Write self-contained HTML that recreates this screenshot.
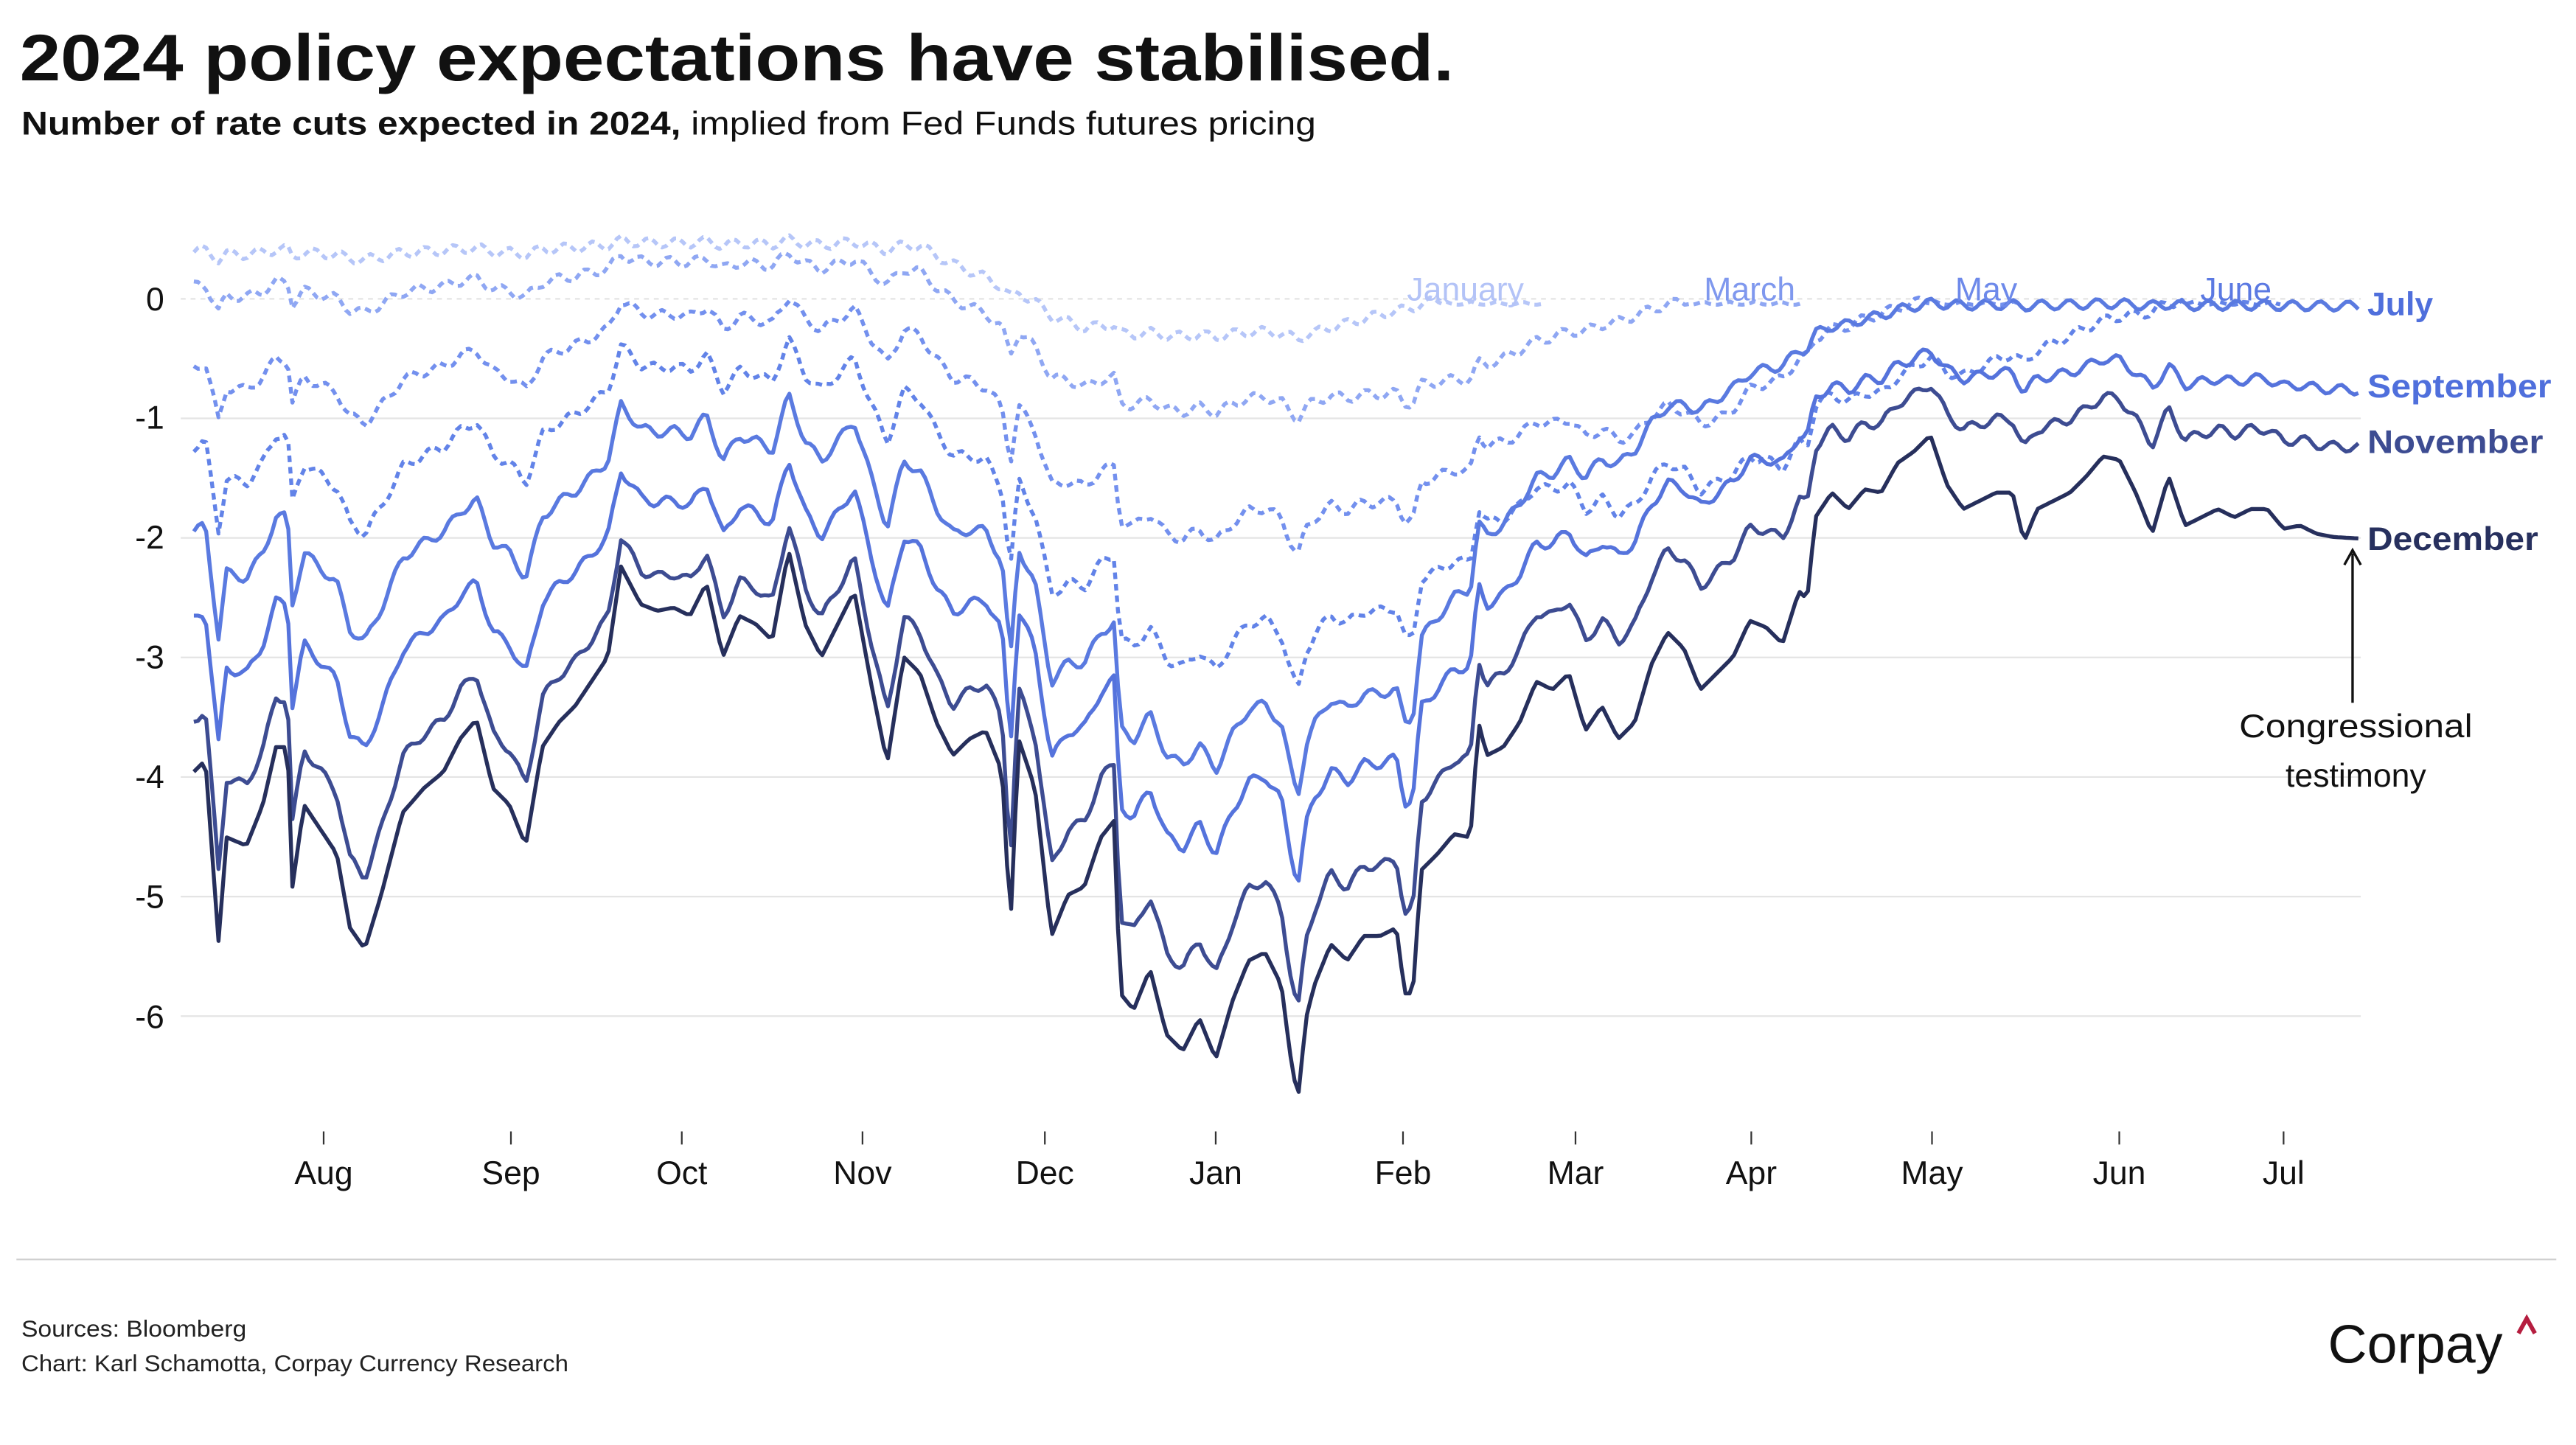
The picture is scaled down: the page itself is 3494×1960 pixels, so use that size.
<!DOCTYPE html>
<html><head><meta charset="utf-8"><style>
html,body{margin:0;padding:0;background:#fff;}
svg{display:block;}
text{font-family:"Liberation Sans",sans-serif;}
</style></head><body>
<svg id="s" width="3494" height="1960" viewBox="0 0 1568 880" preserveAspectRatio="none" xmlns="http://www.w3.org/2000/svg">
<rect width="1568" height="880" fill="#fff"/>
<text x="12" y="49" font-size="40" font-weight="bold" fill="#111" textLength="873" lengthAdjust="spacingAndGlyphs">2024 policy expectations have stabilised.</text>
<text x="13" y="82" font-size="20" fill="#111" textLength="788" lengthAdjust="spacingAndGlyphs"><tspan font-weight="bold">Number of rate cuts expected in 2024,</tspan> implied from Fed Funds futures pricing</text>
<g id="grid"></g>
<g id="series"></g>
<g font-size="20" fill="#111">
<text x="100" y="189" text-anchor="end">0</text>
<text x="100" y="261" text-anchor="end">-1</text>
<text x="100" y="334" text-anchor="end">-2</text>
<text x="100" y="407" text-anchor="end">-3</text>
<text x="100" y="480" text-anchor="end">-4</text>
<text x="100" y="553" text-anchor="end">-5</text>
<text x="100" y="626" text-anchor="end">-6</text>
</g>
<g id="xt" font-size="20" fill="#111" text-anchor="middle"></g>
<g font-size="20" font-weight="bold">
<text x="1441" y="192" fill="#4f6fdc">July</text>
<text x="1441" y="242" fill="#4f6fdc" textLength="112" lengthAdjust="spacingAndGlyphs">September</text>
<text x="1441" y="276" fill="#3d4c92" textLength="107" lengthAdjust="spacingAndGlyphs">November</text>
<text x="1441" y="335" fill="#27305e" textLength="104" lengthAdjust="spacingAndGlyphs">December</text>
<text x="892" y="183" fill="#b3c3f7" text-anchor="middle" font-weight="normal">January</text>
<text x="1065" y="183" fill="#7f98ee" text-anchor="middle" font-weight="normal">March</text>
<text x="1209" y="183" fill="#6d89ea" text-anchor="middle" font-weight="normal">May</text>
<text x="1361" y="183" fill="#5b79e2" text-anchor="middle" font-weight="normal">June</text>
</g>
<line x1="1432" y1="337" x2="1432" y2="428" stroke="#111" stroke-width="1.5"/>
<path d="M1427 344 L1432 335 L1437 344" fill="none" stroke="#111" stroke-width="1.5"/>
<text x="1434" y="449" font-size="20" fill="#111" text-anchor="middle" textLength="142" lengthAdjust="spacingAndGlyphs">Congressional</text>
<text x="1434" y="479" font-size="20" fill="#111" text-anchor="middle">testimony</text>
<line x1="10" y1="767" x2="1556" y2="767" stroke="#cfcfcf" stroke-width="1"/>
<text x="13" y="814" font-size="14" fill="#222" textLength="137" lengthAdjust="spacingAndGlyphs">Sources: Bloomberg</text>
<text x="13" y="835" font-size="14" fill="#222" textLength="333" lengthAdjust="spacingAndGlyphs">Chart: Karl Schamotta, Corpay Currency Research</text>
<text x="1417" y="830" font-size="33" fill="#111">Corpay</text>
<path d="M1533 812 L1538 803 L1543 812" fill="none" stroke="#b51d3f" stroke-width="2.6"/>
</svg>
<script>
var NS="http://www.w3.org/2000/svg";
function el(t,a,p){var e=document.createElementNS(NS,t);for(var k in a)e.setAttribute(k,a[k]);p.appendChild(e);return e;}
var grid=document.getElementById('grid');
for(var i=0;i<=6;i++){var y=182+i*72.8;el('line',{x1:110,x2:1437,y1:y,y2:y,stroke:'#e4e4e4','stroke-width':1,'stroke-dasharray':i==0?'3,3':''},grid);}
var months=[["Aug",197],["Sep",311],["Oct",415],["Nov",525],["Dec",636],["Jan",740],["Feb",854],["Mar",959],["Apr",1066],["May",1176],["Jun",1290],["Jul",1390]];
var xt=document.getElementById('xt');
months.forEach(function(m){el('line',{x1:m[1],x2:m[1],y1:689,y2:697,stroke:'#333','stroke-width':1},grid);var t=el('text',{x:m[1],y:721},xt);t.textContent=m[0];});
var d=[118,470,125,463,133,573,138,510,150,515,160,490,168,455,175,455,178,540,185,490,195,505,205,520,213,565,222,578,232,545,245,495,258,480,270,470,280,450,290,438,300,480,310,490,320,515,330,455,340,440,350,430,360,415,370,400,378,345,390,368,400,372,410,370,420,375,430,355,440,400,450,375,460,380,470,390,480,335,490,380,500,400,510,380,520,360,530,415,540,465,550,400,560,410,570,440,580,460,590,450,600,445,610,470,615,565,620,450,630,480,640,570,650,545,660,540,670,510,678,500,682,605,690,615,700,590,710,630,720,640,730,620,740,645,750,610,760,585,770,580,780,600,785,640,790,670,795,620,800,600,810,575,820,585,830,570,840,570,850,565,855,605,860,605,865,530,875,520,885,508,895,510,900,440,905,460,915,455,925,440,935,415,945,420,955,410,965,445,975,430,985,450,995,440,1005,405,1015,385,1025,395,1035,420,1045,410,1055,400,1065,378,1075,382,1085,392,1095,360,1100,365,1105,315,1115,300,1125,310,1135,298,1145,300,1155,282,1165,275,1175,265,1185,295,1195,310,1205,305,1215,300,1225,300,1232,330,1240,310,1250,305,1260,300,1270,290,1280,278,1290,280,1300,300,1310,325,1320,290,1330,320,1340,315,1350,310,1360,315,1370,310,1380,310,1390,322,1400,320,1410,325,1420,327,1437,328];
var pts=[];for(var i=0;i<d.length;i+=2)pts.push([d[i],d[i+1]]);
function dec(x){for(var i=1;i<pts.length;i++){if(x<=pts[i][0]){var a=pts[i-1],b=pts[i];var t=(x-a[0])/(b[0]-a[0]);return a[1]+t*(b[1]-a[1]);}}return pts[pts.length-1][1];}
function clamp(v){return Math.max(0,Math.min(1,v));}
var S=[
 {a:0.05,b:0.6,f0:800,f1:880,end:940,c:'#b6c6f8',dash:true},
 {a:0.15,b:0.7,f0:900,f1:1030,end:1100,c:'#8fa7f3',dash:true},
 {a:0.32,b:0.7,f0:1050,f1:1176,end:1230,c:'#7390ee',dash:true},
 {a:0.49,b:0.7,f0:1150,f1:1330,end:1390,c:'#6283e8',dash:true},
 {a:0.62,al:0.03,b:0.5,end:1437,c:'#5a7ae0',dash:false},
 {a:0.73,al:0.38,b:0.2,end:1437,c:'#5573dc',dash:false},
 {a:0.89,al:0.62,b:0.0,end:1437,c:'#3d4c92',dash:false},
 {a:1.0,al:1.0,b:0.0,end:1437,c:'#262f5c',dash:false}
];
var g=document.getElementById('series');
S.forEach(function(s,k){
 var p='';
 for(var x=118;x<=s.end;x+=2.5){
  var v=-(dec(x)-182)/72.8;
  var a;
  if(s.al!==undefined){a=s.a+(s.al-s.a)*clamp((x-850)/(1176-850));}
  else{a=s.a*(1-clamp((x-s.f0)/(s.f1-s.f0)));}
  var b=s.b*(1-clamp((x-560)/(660-560)));
  var n=(k<7)?0.04*Math.sin(x*0.37+k*1.7):0;
  var val=a*v+b+n;
  if(s.al===undefined && x>s.f1) val=-0.02-0.03*Math.abs(Math.sin(x*0.2));
  var y=182-val*72.8;
  p+=(p?'L':'M')+x.toFixed(1)+' '+y.toFixed(1);
 }
 el('path',{d:p,fill:'none',stroke:s.c,'stroke-width':2.4,'stroke-linejoin':'round','stroke-dasharray':s.dash?'4,3':''},g);
});
</script>
</body></html>
